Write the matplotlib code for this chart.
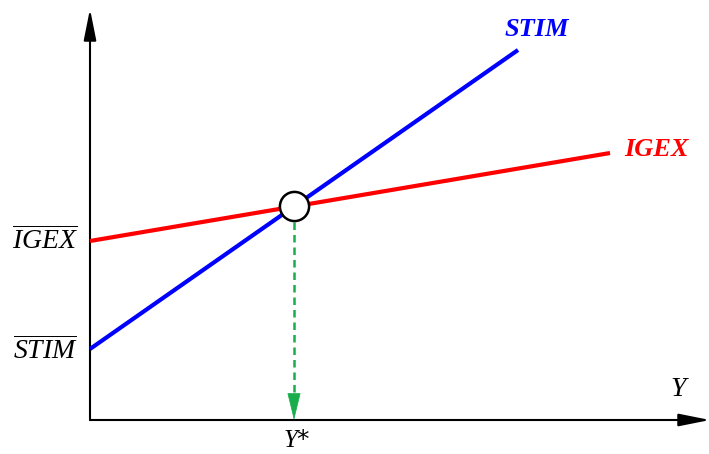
import matplotlib.pyplot as plt
import numpy as np
from matplotlib.patches import FancyArrowPatch

plt.rcParams['mathtext.fontset'] = 'custom'
plt.rcParams['mathtext.it'] = 'Liberation Serif:italic'
plt.rcParams['mathtext.rm'] = 'Liberation Serif'

# curve data (intercept, slope, x range)
stim_intercept = 71
stim_slope = 0.6986
stim_xmax = 428
igex_intercept = 179
igex_slope = 0.1692
igex_xmax = 520

x_stim = np.array([0, stim_xmax])
y_stim = stim_intercept + stim_slope * x_stim
x_igex = np.array([0, igex_xmax])
y_igex = igex_intercept + igex_slope * x_igex

# equilibrium
y_star_x = (igex_intercept - stim_intercept) / (stim_slope - igex_slope)
y_star_y = stim_intercept + stim_slope * y_star_x

fig = plt.figure(figsize=(7.09, 4.54), dpi=100)
ax = fig.add_axes([0, 0, 1, 1])
ax.set_xlim(-90, 619)
ax.set_ylim(-34, 420)
ax.axis('off')

# axes with arrows
axis_style = '-|>,head_length=0.95,head_width=0.19'
for end in [(0, 411), (620, 0)]:
    ax.add_patch(FancyArrowPatch((0, 0), end, arrowstyle=axis_style, mutation_scale=20,
                                 color='black', lw=1.5, shrinkA=0, shrinkB=0))

ax.plot(x_igex, y_igex, color='#ff0000', lw=3, solid_capstyle='butt')
ax.plot(x_stim, y_stim, color='#0000ff', lw=3, solid_capstyle='butt')

# dashed drop line
green = '#19ad4c'
ax.plot([y_star_x, y_star_x], [y_star_y - 16, 24], color=green, lw=1.8, dashes=(3, 2))
ax.add_patch(FancyArrowPatch((y_star_x, 25), (y_star_x, 0),
                             arrowstyle='-|>,head_length=0.9,head_width=0.22',
                             mutation_scale=20, color=green, lw=0.5, shrinkA=0, shrinkB=0))
ax.plot(y_star_x, y_star_y, 'o', ms=21, mfc='white', mec='black', mew=1.8, zorder=5)

# labels
ax.text(447, 390, 'STIM', color='#0000ff', fontsize=19, fontweight='bold', style='italic',
        family='Liberation Serif', ha='center', va='center')
ax.text(567, 270, 'IGEX', color='#ff0000', fontsize=19, fontweight='bold', style='italic',
        family='Liberation Serif', ha='center', va='center')
ax.text(-45, igex_intercept, r'$\overline{IGEX}$', fontsize=20, ha='center', va='center')
ax.text(-45, stim_intercept - 2, r'$\overline{STIM}$', fontsize=20, ha='center', va='center')
ax.text(590, 32, '$Y$', fontsize=20, ha='center', va='center')
ax.text(y_star_x + 3, -20, '$Y$*', fontsize=18, ha='center', va='center')

plt.savefig('out.png', dpi=100)
